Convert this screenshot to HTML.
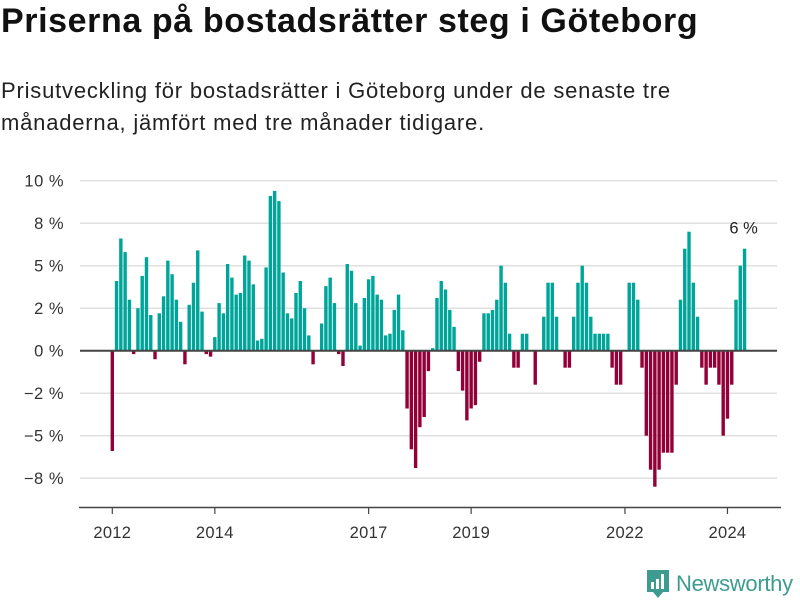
<!DOCTYPE html>
<html><head><meta charset="utf-8">
<style>
body{margin:0;background:#fff;width:800px;height:600px;overflow:hidden;font-family:"Liberation Sans",sans-serif;color:#111}
h1{position:absolute;left:1px;top:2px;margin:0;font-size:34px;font-weight:bold;letter-spacing:0.6px}
p{position:absolute;left:1px;top:75px;margin:0;font-size:22px;line-height:32px;color:#222;width:700px;letter-spacing:0.8px}
</style></head><body>
<h1>Priserna på bostadsrätter steg i Göteborg</h1>
<p>Prisutveckling för bostadsrätter i Göteborg under de senaste tre månaderna, jämfört med tre månader tidigare.</p>
<svg id="c" width="800" height="600" style="position:absolute;left:0;top:0"></svg>
<script>
const values = [
-5.9,4.1,6.6,5.8,3.0,-0.2,2.5,4.4,5.5,2.1,-0.5,2.2,
3.2,5.3,4.5,3.0,1.7,-0.8,2.7,4.0,5.9,2.3,-0.2,-0.35,
0.8,2.8,2.2,5.1,4.3,3.3,3.4,5.6,5.3,3.9,0.6,0.7,
4.9,9.1,9.4,8.8,4.6,2.2,1.9,3.4,4.1,2.5,0.9,-0.8,
0,1.6,3.8,4.3,2.8,-0.2,-0.9,5.1,4.7,2.8,0.3,3.1,
4.2,4.4,3.3,3.0,0.9,1.0,2.4,3.3,1.2,-3.4,-5.8,-6.9,
-4.5,-3.9,-1.2,0.15,3.1,4.1,3.6,2.4,1.4,-1.2,-2.35,-4.1,
-3.4,-3.2,-0.65,2.2,2.2,2.4,3.0,5.0,4.0,1.0,-1.0,-1.0,
1,1,0,-2,0,2,4,4,2,0,-1,-1,
2,4,5,4,2,1,1,1,1,-1,-2,-2,
0,4,4,3,-1,-5,-7,-8,-7,-6,-6,-6,
-2,3,6,7,4,2,-1,-2,-1,-1,-2,-5,
-4,-2,3,5,6];
const startYear = 2012;
const yTicks = [10,7.5,5,2.5,0,-2.5,-5,-7.5];
const yTickLabels = ["10 %","8 %","5 %","2 %","0 %","\u22122 %","\u22125 %","\u22128 %"];
const xTickYears = [2012,2014,2017,2019,2022,2024];
const lastLabel = "6 %";

const svg=document.getElementById('c');
const NS='http://www.w3.org/2000/svg';
const y=v=>350.7-v*17;
const x=i=>112.3+i*4.272;
function mk(t,a){const e=document.createElementNS(NS,t);for(const k in a)e.setAttribute(k,a[k]);svg.appendChild(e);return e;}
yTicks.forEach((t,i)=>{
  if(t!==0){const g=mk('line',{x1:80,x2:777,y1:y(t),y2:y(t),stroke:'#e0e0e0','stroke-width':1.5});
  
  }
  const l=mk('text',{x:64,y:y(t)+6,'text-anchor':'end','font-size':16.5,fill:'#333','letter-spacing':0.5});
  l.textContent=yTickLabels[i];
  
  
});
values.forEach((v,i)=>{
  const b=mk('rect',{x:x(i)-1.7,width:3.4,y:v>=0?y(v):y(0),height:Math.abs(v)*17,fill:v>=0?'#00a59a':'#930038'});
  
  
});
const z=mk('line',{x1:80,x2:777,y1:y(0),y2:y(0),stroke:'#444','stroke-width':2});


const ax=mk('line',{x1:79,x2:781,y1:507.5,y2:507.5,stroke:'#444','stroke-width':1.5});


xTickYears.forEach(yr=>{
  const xi=x((yr-startYear)*12);
  const t=mk('line',{x1:xi,x2:xi,y1:507.5,y2:514,stroke:'#444','stroke-width':1.2});
  
  
  const l=mk('text',{x:xi,y:538,'text-anchor':'middle','font-size':16.5,fill:'#333','letter-spacing':0.3});
  l.textContent=yr;
  
  
});
const li=values.length-1;
const an=mk('text',{x:x(li)-1,y:y(values[li])-15,'text-anchor':'middle','font-size':16.5,fill:'#222'});
an.textContent=lastLabel;


</script>
<div style="position:absolute;left:647px;top:571px;height:26px;display:flex;align-items:center">
<svg width="22" height="28" viewBox="0 0 22 28"><path d="M0 0h22v22h-6l-5 6-5-6H0z" fill="#3d9c8f"/><rect x="4" y="12" width="3" height="7" fill="#fff"/><rect x="9" y="9" width="3" height="10" fill="#fff"/><rect x="14" y="4" width="3" height="15" fill="#fff"/></svg>
<span style="font-size:22px;color:#3d9c8f;margin-left:7px;letter-spacing:-0.3px">Newsworthy</span>
</div>
</body></html>
